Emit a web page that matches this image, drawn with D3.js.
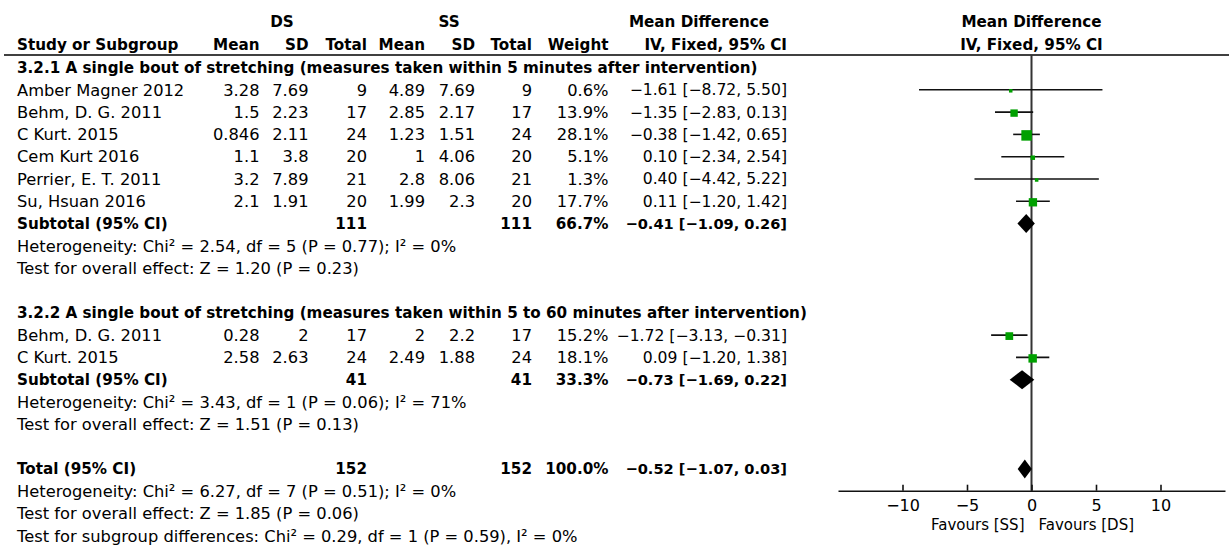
<!DOCTYPE html>
<meta charset="utf-8">
<script src="https://d3js.org/d3.v7.min.js"></script>
<style>
body { margin: 0; background: #fff; }
svg { display: block; font-family: "DejaVu Sans", sans-serif; font-size: 16.3px; }
.b { font-weight: bold; font-size: 15.2px; }
.ci { font-size: 15.6px; }
.ci.b { font-size: 14.6px; }
</style>
<body>
<div class="chart"></div>
<script>

// study rows
var studies = ["Amber Magner 2012", "Behm, D. G. 2011", "C Kurt. 2015", "Cem Kurt 2016",
               "Perrier, E. T. 2011", "Su, Hsuan 2016", "Behm, D. G. 2011", "C Kurt. 2015"];
var groupOf = [0, 0, 0, 0, 0, 0, 1, 1];
var dsMean = [3.28, 1.5, 0.846, 1.1, 3.2, 2.1, 0.28, 2.58];
var dsSD   = [7.69, 2.23, 2.11, 3.8, 7.89, 1.91, 2, 2.63];
var dsN    = [9, 17, 24, 20, 21, 20, 17, 24];
var ssMean = [4.89, 2.85, 1.23, 1, 2.8, 1.99, 2, 2.49];
var ssSD   = [7.69, 2.17, 1.51, 4.06, 8.06, 2.3, 2.2, 1.88];
var ssN    = [9, 17, 24, 20, 21, 20, 17, 24];
var weight = [0.6, 13.9, 28.1, 5.1, 1.3, 17.7, 15.2, 18.1];
var md     = [-1.61, -1.35, -0.38, 0.10, 0.40, 0.11, -1.72, 0.09];
var lo     = [-8.72, -2.83, -1.42, -2.34, -4.42, -1.20, -3.13, -1.20];
var hi     = [5.50, 0.13, 0.65, 2.54, 5.22, 1.42, -0.31, 1.38];

// subgroups and overall
var groupTitles = ["3.2.1 A single bout of stretching (measures taken within 5 minutes after intervention)",
                   "3.2.2 A single bout of stretching (measures taken within 5 to 60 minutes after intervention)"];
var subN      = [111, 41];
var subWeight = [66.7, 33.3];
var subMd     = [-0.41, -0.73];
var subLo     = [-1.09, -1.69];
var subHi     = [0.26, 0.22];
var subHet    = ["Heterogeneity: Chi² = 2.54, df = 5 (P = 0.77); I² = 0%",
                 "Heterogeneity: Chi² = 3.43, df = 1 (P = 0.06); I² = 71%"];
var subTest   = ["Test for overall effect: Z = 1.20 (P = 0.23)",
                 "Test for overall effect: Z = 1.51 (P = 0.13)"];
var totN = 152, totWeight = 100.0, totMd = -0.52, totLo = -1.07, totHi = 0.03;
var totNotes = ["Heterogeneity: Chi² = 6.27, df = 7 (P = 0.51); I² = 0%",
                "Test for overall effect: Z = 1.85 (P = 0.06)",
                "Test for subgroup differences: Chi² = 0.29, df = 1 (P = 0.59), I² = 0%"];
var axisTicks = [-10, -5, 0, 5, 10];
var favours = ["Favours [SS]", "Favours [DS]"];

var width = 1229, height = 546;
var f2 = d3.format(".2f"), f1 = d3.format(".1f");

var svg = d3.select(".chart").append("svg")
    .attr("width", width)
    .attr("height", height);

// column positions
var col = {name: 17, dsMean: 259.5, dsSD: 308.5, dsN: 367, ssMean: 425, ssSD: 475, ssN: 532,
           weight: 608.5, ci: 787};

// build row list
var rows = [];
var r = 0;
[0, 1].forEach(function(g) {
  rows.push({type: "title", i: r++, text: groupTitles[g]});
  studies.forEach(function(s, k) {
    if (groupOf[k] == g) rows.push({type: "study", i: r++, k: k});
  });
  rows.push({type: "sub", i: r++, label: "Subtotal (95% CI)", n1: subN[g], n2: subN[g],
             w: subWeight[g], md: subMd[g], lo: subLo[g], hi: subHi[g]});
  rows.push({type: "note", i: r++, text: subHet[g]});
  rows.push({type: "note", i: r++, text: subTest[g]});
  r++;
});
rows.push({type: "sub", i: r++, label: "Total (95% CI)", n1: totN, n2: totN,
           w: totWeight, md: totMd, lo: totLo, hi: totHi});
totNotes.forEach(function(t) { rows.push({type: "note", i: r++, text: t}); });

var y = d3.scaleLinear().domain([0, 21]).range([67.5, 535.8]);
var x = d3.scaleLinear().domain([-15, 15]).range([838, 1225]);
var boxSize = d3.scaleSqrt().domain([0, 28.1]).range([0, 10.5]);

function txt(g, xx, yy, s, anchor, cls) {
  return g.append("text")
    .attr("x", xx).attr("y", yy).attr("dy", ".35em")
    .attr("text-anchor", anchor || "start")
    .attr("class", cls || null)
    .text(s);
}
function ciText(m, l, h) {
  return f2(m) + " [" + f2(l) + ", " + f2(h) + "]";
}

// headers
var head = svg.append("g");
txt(head, 282, 21.7, "DS", "middle", "b");
txt(head, 449, 21.7, "SS", "middle", "b");
txt(head, 699, 21.7, "Mean Difference", "middle", "b");
txt(head, x(0), 21.7, "Mean Difference", "middle", "b");
txt(head, col.name, 45, "Study or Subgroup", "start", "b");
[["Mean", col.dsMean], ["SD", col.dsSD], ["Total", col.dsN], ["Mean", col.ssMean],
 ["SD", col.ssSD], ["Total", col.ssN], ["Weight", col.weight],
 ["IV, Fixed, 95% CI", col.ci]].forEach(function(h) {
  txt(head, h[1], 45, h[0], "end", "b");
});
txt(head, x(0), 45, "IV, Fixed, 95% CI", "middle", "b");

svg.append("line")
  .attr("x1", 4).attr("x2", width)
  .attr("y1", 55).attr("y2", 55)
  .attr("stroke", "#000").attr("stroke-width", 1.6);

// zero line
svg.append("line")
  .attr("x1", x(0)).attr("x2", x(0))
  .attr("y1", 55).attr("y2", 490.7)
  .attr("stroke", "#333").attr("stroke-width", 2);

// table rows
var table = svg.append("g");
rows.forEach(function(d) {
  var yy = y(d.i);
  if (d.type == "title") {
    txt(table, col.name, yy, d.text, "start", "b");
  } else if (d.type == "note") {
    txt(table, col.name, yy, d.text);
  } else if (d.type == "study") {
    var k = d.k;
    txt(table, col.name, yy, studies[k]);
    txt(table, col.dsMean, yy, String(dsMean[k]), "end");
    txt(table, col.dsSD, yy, String(dsSD[k]), "end");
    txt(table, col.dsN, yy, String(dsN[k]), "end");
    txt(table, col.ssMean, yy, String(ssMean[k]), "end");
    txt(table, col.ssSD, yy, String(ssSD[k]), "end");
    txt(table, col.ssN, yy, String(ssN[k]), "end");
    txt(table, col.weight, yy, f1(weight[k]) + "%", "end");
    txt(table, col.ci, yy, ciText(md[k], lo[k], hi[k]), "end", "ci");
  } else {
    txt(table, col.name, yy, d.label, "start", "b");
    txt(table, col.dsN, yy, String(d.n1), "end", "b");
    txt(table, col.ssN, yy, String(d.n2), "end", "b");
    txt(table, col.weight, yy, f1(d.w) + "%", "end", "b");
    txt(table, col.ci, yy, ciText(d.md, d.lo, d.hi), "end", "ci b");
  }
});

// forest marks
var plot = svg.append("g");
var studyRows = rows.filter(function(d) { return d.type == "study"; });
plot.selectAll(".ciline").data(studyRows).enter().append("line")
  .attr("x1", function(d) { return x(lo[d.k]); })
  .attr("x2", function(d) { return x(hi[d.k]); })
  .attr("y1", function(d) { return y(d.i); })
  .attr("y2", function(d) { return y(d.i); })
  .attr("stroke", "#111").attr("stroke-width", 1.6);
plot.selectAll(".box").data(studyRows).enter().append("rect")
  .attr("width", function(d) { return Math.max(3.5, boxSize(weight[d.k])); })
  .attr("height", function(d) { return Math.max(3.5, boxSize(weight[d.k])); })
  .attr("x", function(d) { return x(md[d.k]) - Math.max(3.5, boxSize(weight[d.k])) / 2; })
  .attr("y", function(d) { return y(d.i) + 1 - Math.max(3.5, boxSize(weight[d.k])) / 2; })
  .attr("fill", "#00a000");

var subRows = rows.filter(function(d) { return d.type == "sub"; });
plot.selectAll(".diamond").data(subRows).enter().append("path")
  .attr("d", function(d) {
    var yy = y(d.i), h = 9.5;
    return "M" + x(d.lo) + "," + yy + "L" + x(d.md) + "," + (yy - h) +
           "L" + x(d.hi) + "," + yy + "L" + x(d.md) + "," + (yy + h) + "Z";
  })
  .attr("fill", "#000");

// axis
var axis = svg.append("g")
  .attr("transform", "translate(0,490.7)")
  .call(d3.axisBottom(x).tickValues(axisTicks).tickSize(-6).tickSizeOuter(0).tickPadding(9));
axis.select(".domain").attr("stroke", "#111").attr("stroke-width", 1.6);
axis.selectAll(".tick line").attr("stroke", "#111").attr("stroke-width", 1.6);
axis.selectAll(".tick text").attr("font-size", 16).attr("font-family", "DejaVu Sans").attr("fill", "#000");

txt(svg, x(0) - 7, 525, favours[0], "end").attr("font-size", 15);
txt(svg, x(0) + 7, 525, favours[1], "start").attr("font-size", 15);

</script>
</body>
</html>
